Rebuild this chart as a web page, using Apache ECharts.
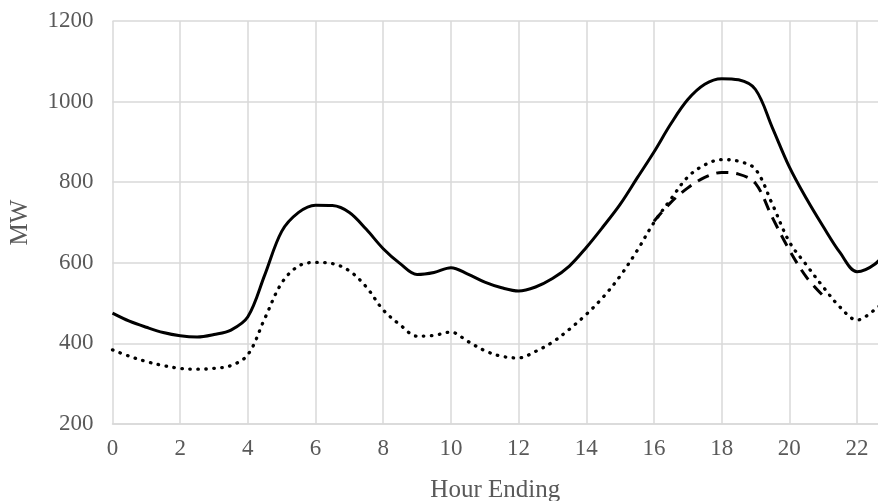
<!DOCTYPE html>
<html lang="en" style="height: 100%">
<head>
  <meta charset="utf-8">
  <title>MW by hour</title>
</head>
<body style="height: 100%; margin: 0">
  <div id="container" style="width: 878px;height: 501px"></div>

  <script type="text/javascript" src="https://cdn.jsdelivr.net/npm/echarts@6/dist/echarts.min.js"></script>

  <script type="text/javascript">
    // half-hour steps
    var hours = [0, 0.5, 1, 1.5, 2, 2.5, 3, 3.5, 4, 4.5, 5, 5.5, 6, 6.5, 7, 7.5, 8, 8.5, 9, 9.5,
                 10, 10.5, 11, 11.5, 12, 12.5, 13, 13.5, 14, 14.5, 15, 15.5, 16, 16.5, 17, 17.5,
                 18, 18.5, 19, 19.5, 20, 20.5, 21, 21.5, 22, 22.5, 23];
    var solidMW = [475, 455, 440, 427, 419, 416, 422, 433, 466, 570, 678, 725, 743, 742, 725, 683,
                   635, 598, 571, 576, 588, 572, 552, 538, 530, 540, 561, 592, 638, 690, 745, 810,
                   875, 945, 1005, 1043, 1057, 1054, 1030, 935, 838, 760, 690, 625, 578, 595, 640];
    var dottedMW = [384, 368, 355, 345, 338, 336, 338, 345, 372, 462, 550, 592, 601, 598, 580, 540,
                    483, 446, 418, 420, 428, 405, 382, 368, 364, 380, 403, 435, 472, 515, 567, 630,
                    700, 758, 813, 843, 856, 852, 832, 745, 652, 595, 540, 490, 458, 482, 518];
    var dashedMW = [null, null, null, null, null, null, null, null, null, null, null, null, null, null, null, null,
                    null, null, null, null, null, null, null, null, null, null, null, null, null, null, null, null,
                    703, 750, 786, 812, 824, 820, 797, 712, 632, 565, 518, null, null, null, null];
    var yTicks = [200, 400, 600, 800, 1000, 1200];

    function pairs(vals) {
      return hours.map(function (h, i) { return [h, vals[i]]; });
    }

    var dom = document.getElementById('container');
    var myChart = echarts.init(dom, null, { renderer: 'canvas' });

    var font = 'Liberation Serif';
    var grey = '#595959';
    var gridColor = '#d9d9d9';

    var option = {
      animation: false,
      grid: { left: 112.5, right: 0, top: 21, bottom: 77, containLabel: false, outerBoundsMode: 'none' },
      xAxis: {
        type: 'value',
        min: 0,
        max: 22.62,
        interval: 2,
        name: 'Hour Ending',
        nameLocation: 'middle',
        nameGap: 54,
        nameTextStyle: { fontFamily: font, fontSize: 25, color: grey },
        axisLine: { show: true, lineStyle: { color: gridColor, width: 1.5 } },
        axisTick: { show: false },
        axisLabel: {
          fontFamily: font, fontSize: 23, color: grey, margin: 13,
          showMaxLabel: false
        },
        splitLine: { show: true, showMaxLine: false, lineStyle: { color: gridColor, width: 1.5 } }
      },
      yAxis: {
        type: 'value',
        min: yTicks[0],
        max: yTicks[yTicks.length - 1],
        interval: 200,
        name: 'MW',
        nameLocation: 'middle',
        nameGap: 80,
        nameTextStyle: { fontFamily: font, fontSize: 25, color: grey },
        axisLine: { show: false },
        axisTick: { show: false },
        axisLabel: {
          fontFamily: font, fontSize: 23, color: grey, margin: 19,
          formatter: function (v) { return String(v); }
        },
        splitLine: { show: true, lineStyle: { color: gridColor, width: 1.5 } }
      },
      series: [
        {
          name: 'Solid',
          type: 'line',
          data: pairs(solidMW),
          smooth: 0.35,
          showSymbol: false,
          lineStyle: { color: '#000', width: 3 }
        },
        {
          name: 'Dotted',
          type: 'line',
          data: pairs(dottedMW),
          smooth: 0.35,
          showSymbol: false,
          lineStyle: { color: '#000', width: 3.3, type: [0.5, 7.5], cap: 'round' }
        },
        {
          name: 'Dashed',
          type: 'line',
          data: pairs(dashedMW),
          smooth: 0.35,
          showSymbol: false,
          connectNulls: false,
          lineStyle: { color: '#000', width: 3, type: [12, 8] }
        }
      ]
    };

    myChart.setOption(option);
    window.addEventListener('resize', myChart.resize);
  </script>
</body>
</html>
